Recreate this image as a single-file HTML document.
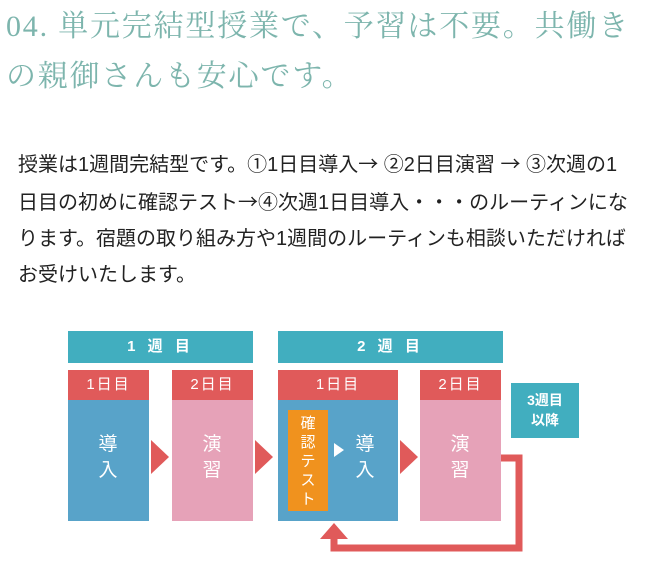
<!DOCTYPE html>
<html><head><meta charset="utf-8"><style>
body{margin:0;width:657px;height:574px;background:#fff;position:relative;overflow:hidden;font-family:"Liberation Sans","Noto Sans CJK JP",sans-serif}
.t{position:absolute;left:6px;top:2px;font-family:"Liberation Serif","Noto Serif CJK JP",serif;font-size:30px;color:#7db5ad;line-height:50px;letter-spacing:1.8px;white-space:nowrap}
.p{position:absolute;left:18px;top:145px;font-size:20px;line-height:36px;color:#222;white-space:nowrap;letter-spacing:0px}
.a{font-family:"Noto Sans CJK JP",sans-serif}
.b{position:absolute;color:#fff;text-align:center;font-weight:bold}
.hd{background:#41aebf;font-size:15px;line-height:32px;letter-spacing:4px}
.rd{background:#e05a5a;font-size:15px;line-height:30px;letter-spacing:2px;font-weight:normal}
.bl{background:#58a3c9}
.pk{background:#e6a2b8}
.v{position:absolute;color:#fff;font-size:19px;line-height:26px;width:30px;text-align:center}
.tri{position:absolute;width:0;height:0;border-top:17px solid transparent;border-bottom:17px solid transparent;border-left:18px solid #e05a5a}
</style></head><body>
<div class="t">04. 単元完結型授業で、予習は不要。共働き<br>の親御さんも安心です。</div>
<div class="p">授業は1週間完結型です。①1日目導入<span class="a">→</span> ②2日目演習 <span class="a">→</span> ③次週の1<br>日目の初めに確認テスト<span class="a">→</span>④次週1日目導入・・・のルーティンにな<br>ります。宿題の取り組み方や1週間のルーティンも相談いただければ<br>お受けいたします。</div>

<div class="b hd" style="left:68px;top:331px;width:185px;height:32px">1 週 目</div>
<div class="b hd" style="left:278px;top:331px;width:225px;height:32px">2 週 目</div>

<div class="b bl" style="left:68px;top:370px;width:81px;height:151px"></div>
<div class="b rd" style="left:68px;top:370px;width:81px;height:30px">1日目</div>
<div class="v" style="left:93px;top:432px">導入</div>

<div class="b pk" style="left:172px;top:370px;width:81px;height:151px"></div>
<div class="b rd" style="left:172px;top:370px;width:81px;height:30px">2日目</div>
<div class="v" style="left:197px;top:432px">演習</div>

<div class="b bl" style="left:278px;top:370px;width:120px;height:151px"></div>
<div class="b rd" style="left:278px;top:370px;width:120px;height:30px">1日目</div>
<div class="b" style="left:288px;top:410px;width:40px;height:101px;background:#f0921e"></div>
<div class="v" style="left:293px;top:414px;font-size:15px;line-height:19px;width:30px">確<br>認<br>テ<br>ス<br>ト</div>
<div style="position:absolute;left:334px;top:443px;border-top:7px solid transparent;border-bottom:7px solid transparent;border-left:10px solid #fff"></div>
<div class="v" style="left:350px;top:432px">導入</div>

<div class="b pk" style="left:420px;top:370px;width:81px;height:151px"></div>
<div class="b rd" style="left:420px;top:370px;width:81px;height:30px">2日目</div>
<div class="v" style="left:445px;top:432px">演習</div>

<div class="b hd" style="left:511px;top:383px;width:68px;height:55px;font-size:14px;line-height:20px;letter-spacing:0;padding-top:7px;box-sizing:border-box">3週目<br>以降</div>

<div class="tri" style="left:151px;top:440px"></div>
<div class="tri" style="left:255px;top:440px"></div>
<div class="tri" style="left:400px;top:440px"></div>

<svg style="position:absolute;left:0;top:0" width="657" height="574">
<polyline points="501,458 519,458 519,548 334,548 334,536" fill="none" stroke="#e05a5a" stroke-width="7"/>
<polygon points="320,539 348,539 334,523" fill="#e05a5a"/>
</svg>
</body></html>
